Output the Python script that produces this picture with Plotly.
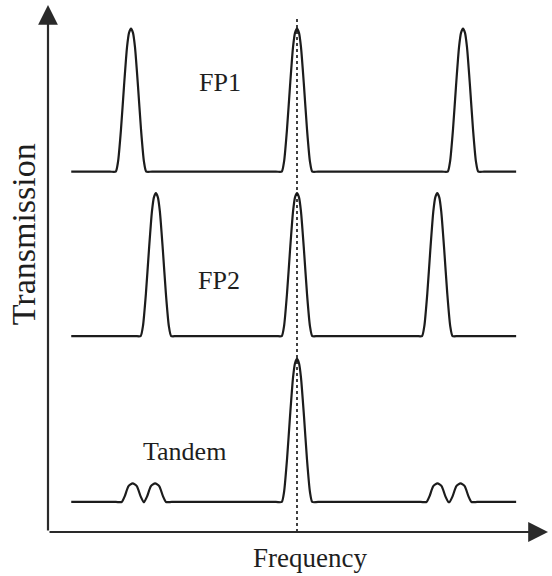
import plotly.graph_objects as go

# Frequency axis: units of the FP1 free spectral range, centred on the common peak.
# Transmission axis: arbitrary units, each curve stacked on its own baseline.
fp1_centers = [-1.0, 0.0, 1.0]
fp1_heights = [1.0, 1.0, 1.0]
fp2_centers = [-0.85, 0.0, 0.845]
fp2_heights = [1.0, 1.0, 1.0]
tandem_centers = [-0.99, -0.855, 0.0, 0.846, 0.985]
tandem_heights = [0.13, 0.13, 1.0, 0.13, 0.13]
tandem_kinds = ["bump", "bump", "peak", "bump", "bump"]

baselines = {"FP1": 2.52, "FP2": 1.37, "Tandem": 0.21}
freq_start, freq_end = -1.36, 1.32

# Line profiles of a single transmission peak (offset from centre, relative height)
peak_dx = [-0.092, -0.078, -0.06, -0.042, -0.024, -0.012, 0.0,
           0.012, 0.024, 0.042, 0.06, 0.078, 0.092]
peak_h = [0.0, 0.07, 0.3, 0.6, 0.87, 0.97, 1.0,
          0.97, 0.87, 0.6, 0.3, 0.07, 0.0]
bump_dx = [-0.066, -0.048, -0.025, 0.0, 0.025, 0.048, 0.066]
bump_h = [0.0, 0.3, 0.85, 1.0, 0.85, 0.3, 0.0]
profiles = {"peak": (peak_dx, peak_h), "bump": (bump_dx, bump_h)}
PAD = 0.035  # flat baseline anchor kept next to each isolated feature


def spectrum(centers, heights, kinds, base):
    xs, ys = [freq_start], [base]
    n = len(centers)
    for i, (c, h, k) in enumerate(zip(centers, heights, kinds)):
        dxs, hs = profiles[k]
        left = c + dxs[0] - PAD
        if left > xs[-1] + PAD:
            xs.append(left)
            ys.append(base)
        for dx, p in zip(dxs, hs):
            xs.append(c + dx)
            ys.append(base + h * p)
        right = c + dxs[-1] + PAD
        if i + 1 < n:
            next_start = centers[i + 1] + profiles[kinds[i + 1]][0][0]
        else:
            next_start = freq_end
        if right < next_start - PAD:
            xs.append(right)
            ys.append(base)
    xs.append(freq_end)
    ys.append(base)
    return xs, ys


line_style = dict(color="#1c1c1c", width=2.2, shape="spline", smoothing=0.6)

fig = go.Figure()
for name, centers, heights, kinds in [
    ("FP1", fp1_centers, fp1_heights, ["peak"] * 3),
    ("FP2", fp2_centers, fp2_heights, ["peak"] * 3),
    ("Tandem", tandem_centers, tandem_heights, tandem_kinds),
]:
    xs, ys = spectrum(centers, heights, kinds, baselines[name])
    fig.add_trace(go.Scatter(x=xs, y=ys, mode="lines", line=line_style,
                             name=name, showlegend=False, hoverinfo="skip"))

# dotted marker of the common transmission frequency
fig.add_shape(type="line", x0=0, x1=0, y0=0, y1=3.6, xref="x", yref="y",
              line=dict(color="#111", width=1.6, dash="dot"))

serif = "Liberation Serif, Times New Roman, serif"
label_font = dict(family=serif, size=26, color="#1e1e1e")
xlabel_font = dict(family=serif, size=27, color="#1e1e1e")
ylabel_font = dict(family=serif, size=34, color="#1e1e1e")

annotations = [
    dict(x=-0.464, y=3.14, text="FP1", xref="x", yref="y", showarrow=False,
         font=label_font),
    dict(x=-0.47, y=1.76, text="FP2", xref="x", yref="y", showarrow=False,
         font=label_font),
    dict(x=-0.675, y=0.56, text="Tandem", xref="x", yref="y", showarrow=False,
         font=label_font),
    dict(x=0.524, y=-0.05, text="Frequency", xref="paper", yref="paper",
         showarrow=False, font=xlabel_font, xanchor="center", yanchor="middle"),
    dict(x=-0.05, y=0.565, text="Transmission", xref="paper", yref="paper",
         showarrow=False, font=ylabel_font, textangle=-90,
         xanchor="center", yanchor="middle"),
    # axis arrows
    dict(x=0, y=1, ax=0, ay=0, xref="x domain", yref="y domain",
         axref="x domain", ayref="y domain", showarrow=True, arrowhead=2,
         arrowsize=1.8, arrowwidth=2.2, arrowcolor="#2a2a2a", text=""),
    dict(x=1, y=0, ax=0, ay=0, xref="x domain", yref="y domain",
         axref="x domain", ayref="y domain", showarrow=True, arrowhead=2,
         arrowsize=1.8, arrowwidth=2.2, arrowcolor="#2a2a2a", text=""),
]

axis_common = dict(showgrid=False, zeroline=False, showticklabels=False,
                   ticks="", showline=False, fixedrange=True)
fig.update_layout(
    width=552, height=576,
    margin=dict(l=48, r=4, t=5, b=44),
    paper_bgcolor="white", plot_bgcolor="white",
    xaxis=dict(range=[-1.5, 1.512], **axis_common),
    yaxis=dict(range=[0, 3.685], **axis_common),
    annotations=annotations,
)

fig.write_html("out.html")
